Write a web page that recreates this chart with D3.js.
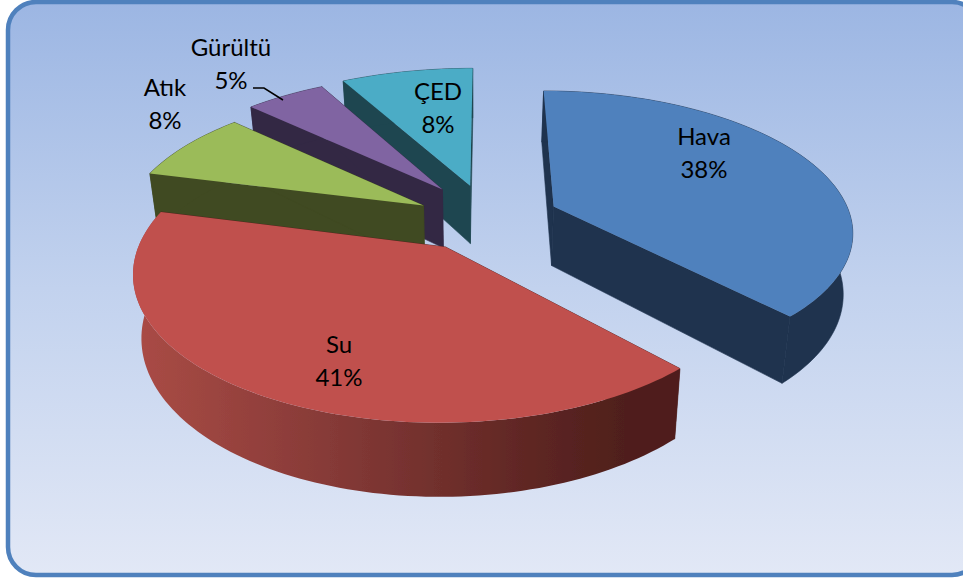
<!DOCTYPE html>
<html><head><meta charset="utf-8">
<script src="https://cdn.jsdelivr.net/npm/d3@7/dist/d3.min.js"></script>
<style>html,body{margin:0;padding:0;background:#fff;overflow:hidden}svg{display:block}
text{font-family:Lato,"Open Sans",sans-serif;font-size:24px;fill:#000;text-anchor:middle}</style>
</head><body><script>
const categories = ["Hava","Su","Atık","Gürültü","ÇED"];
const values = [38,41,8,5,8];
const explode = [0.27,0.22,0.22,0.24,0.25];
const radiusFactor = [1,1,1.01,1.03,1.07];
const topColors = ["#4f81bd","#c0504d","#9bbb59","#8064a2","#4bacc6"];
const wallColors = ["#1f334e","#4f1f1c","#404a22","#332844","#1e4650"];
const drawOrder = [0,4,3,2,1];
const shiftX = [0,0,0,5,8];
const shiftY = [0,0,0,-5,-2];
const labelX = [704,339,165,231,438];
const labelY = [145,353,96,56,100];

const W=963,H=583;
const svg=d3.select("body").append("svg").attr("width",W).attr("height",H);
const defs=svg.append("defs");
const bg=defs.append("linearGradient").attr("id","bg").attr("x1",0).attr("y1",0).attr("x2",0).attr("y2",1);
bg.append("stop").attr("offset","0").attr("stop-color","#9cb6e3");
bg.append("stop").attr("offset","0.5").attr("stop-color","#c2d2ee");
bg.append("stop").attr("offset","1").attr("stop-color","#e2e8f6");
const sg=defs.append("linearGradient").attr("id","suWall").attr("gradientUnits","userSpaceOnUse")
  .attr("x1",140).attr("y1",0).attr("x2",680).attr("y2",0);
[[0,"#a94b45"],[0.35,"#863a37"],[0.75,"#5c2522"],[0.9,"#4f1f1c"],[1,"#4f1f1c"]]
  .forEach(d=>sg.append("stop").attr("offset",d[0]).attr("stop-color",d[1]));
defs.append("filter").attr("id","soft").append("feGaussianBlur").attr("stdDeviation",0.7);

svg.append("rect").attr("x",8).attr("y",2).attr("width",972).attr("height",573).attr("rx",28)
  .attr("fill","url(#bg)").attr("stroke","#4f81bd").attr("stroke-width",4.5);

// plane → screen with perspective
const cx=480,cy=220,k=0.16,depth=60,vx=470,shrink=0.975;
const sx=d3.scaleLinear().domain([0,1]).range([0,298]);
const sy=d3.scaleLinear().domain([0,1]).range([0,138]);
const proj=(X,Y,low)=>{
  const s=1/(1+k*Y);
  let x=cx+sx(X)*s, y=cy-sy(Y)*s;
  if(low){ x=vx+(x-vx)*shrink; y+=depth*s; }
  return [x,y];
};
const pieGen=d3.pie().sort(null).value(d=>d);
const arcs=pieGen(values);
const line=d3.line();
const g=svg.append("g");

function geometry(i){
  const a=arcs[i], mid=(a.startAngle+a.endAngle)/2, e=explode[i], R=radiusFactor[i];
  const ox=e*Math.sin(mid), oy=e*Math.cos(mid);
  const n=Math.max(8,Math.ceil((a.endAngle-a.startAngle)*40));
  const angles=d3.range(n+1).map(j=>a.startAngle+(a.endAngle-a.startAngle)*j/n);
  const rim=low=>angles.map(t=>proj(ox+R*Math.sin(t),oy+R*Math.cos(t),low));
  const apex=low=>proj(ox,oy,low);
  return {rimT:rim(false),rimB:rim(true),apT:apex(false),apB:apex(true)};
}
drawOrder.forEach(i=>{
  const q=geometry(i), s=g.append("g").attr("class","slice").datum(arcs[i])
    .attr("transform",`translate(${shiftX[i]},${shiftY[i]})`);
  const wall=wallColors[i];
  const first=[q.apT,q.rimT[0],q.rimB[0],q.apB];
  const last=[q.apT,q.rimT[q.rimT.length-1],q.rimB[q.rimB.length-1],q.apB];
  s.append("path").attr("d",line(first)+"Z").attr("fill",wall).attr("stroke",wall).attr("stroke-width",0.6);
  s.append("path").attr("d",line(last)+"Z").attr("fill",wall).attr("stroke",wall).attr("stroke-width",0.6);
  const su=categories[i]==="Su";
  s.append("path").attr("d",line(q.rimT.concat(q.rimB.slice().reverse()))+"Z")
    .attr("fill",su?"url(#suWall)":wall)
    .attr("stroke",su?null:wall).attr("stroke-width",su?null:0.6)
    .attr("filter",su?"url(#soft)":null);
  s.append("path").attr("d",line([q.apT].concat(q.rimT))+"Z").attr("fill",topColors[i]);
});

// leader line for Gürültü
svg.append("path").attr("d",line([[253,88],[264,88],[283,100]])).attr("fill","none")
  .attr("stroke","#000").attr("stroke-width",1.5);

categories.forEach((c,i)=>{
  const t=svg.append("text");
  t.append("tspan").attr("x",labelX[i]).attr("y",labelY[i]).text(c);
  t.append("tspan").attr("x",labelX[i]).attr("y",labelY[i]+32.5).text(d3.format(".0f")(values[i])+"%");
});
</script></body></html>
